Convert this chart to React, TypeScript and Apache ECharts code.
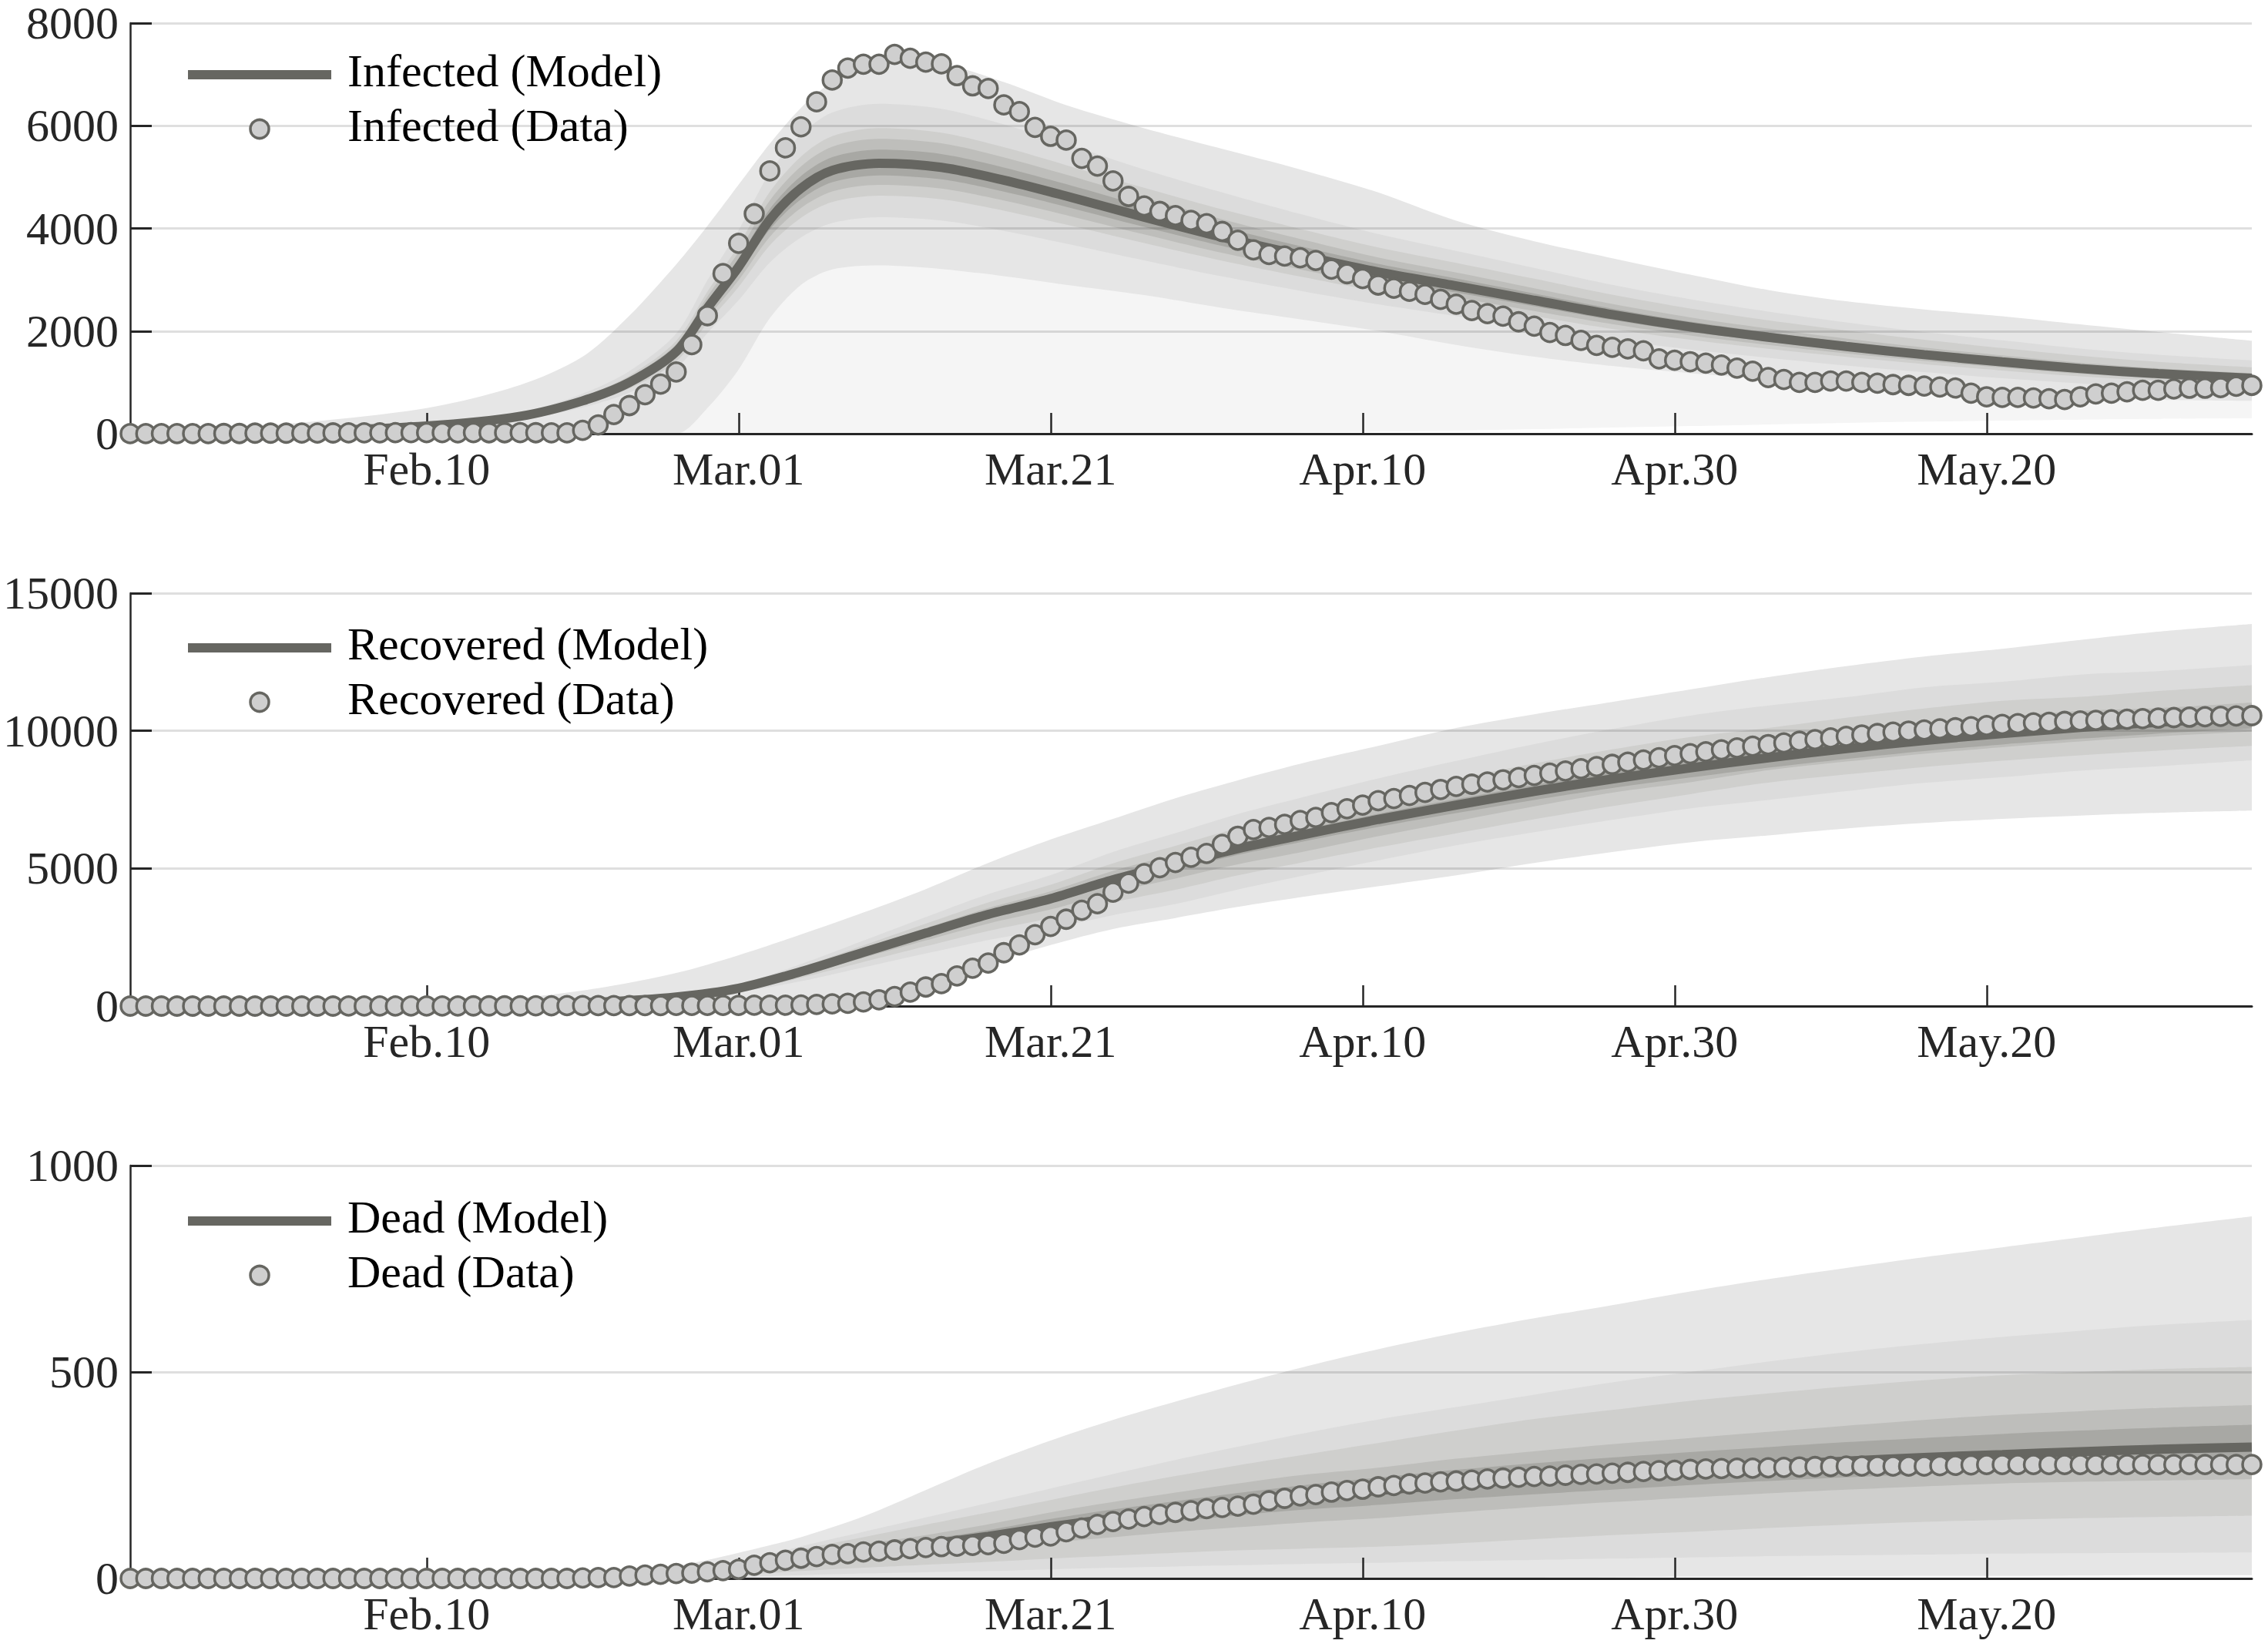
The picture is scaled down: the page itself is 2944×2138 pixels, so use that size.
import React, { useEffect, useRef } from "react";
import * as echarts from "echarts";

// ---------- axis ticks ----------
const TICK_DAYS = [19, 39, 59, 79, 99, 119];
const TICK_LABELS = ["Feb.10", "Mar.01", "Mar.21", "Apr.10", "Apr.30", "May.20"];
const LAST_DAY = 136;

// ---------- daily data (day 0 = Jan 22) ----------
const infectedData = [
  1, 1, 2, 2, 3, 3, 4, 4, 11, 11,
  11, 12, 12, 15, 16, 17, 18, 20, 20, 20,
  20, 17, 21, 19, 19, 20, 19, 17, 16, 65,
  172, 374, 548, 760, 966, 1204, 1735, 2300, 3120, 3710,
  4285, 5120, 5570, 5979, 6467, 6890, 7125, 7200, 7200, 7389,
  7315, 7240, 7205, 6976, 6777, 6727, 6407, 6277, 5969, 5794,
  5720, 5365, 5215, 4926, 4623, 4436, 4330, 4249, 4155, 4093,
  3940, 3770, 3581, 3491, 3461, 3427, 3376, 3207, 3118, 3022,
  2897, 2834, 2774, 2714, 2617, 2523, 2400, 2340, 2290, 2180,
  2096, 1971, 1914, 1817, 1722, 1682, 1654, 1614, 1459, 1431,
  1403, 1375, 1338, 1278, 1218, 1095, 1055, 999, 999, 1027,
  1027, 999, 986, 957, 942, 930, 910, 890, 790, 720,
  707, 707, 695, 680, 666, 720, 776, 789, 817, 845,
  845, 873, 886, 886, 898, 926, 942,
];

const recoveredData = [
  0, 0, 0, 0, 0, 0, 0, 0, 0, 0,
  0, 0, 0, 0, 1, 1, 1, 2, 2, 3,
  3, 4, 7, 7, 7, 7, 9, 10, 16, 16,
  16, 17, 18, 18, 18, 22, 22, 22, 24, 27,
  30, 30, 34, 41, 60, 80, 100, 150, 230, 346,
  506, 693, 815, 1096, 1376, 1564, 1938, 2219, 2594, 2893,
  3155, 3483, 3717, 4138, 4466, 4812, 5028, 5216, 5403, 5543,
  5871, 6170, 6410, 6490, 6600, 6740, 6850, 7030, 7170, 7300,
  7460, 7540, 7650, 7760, 7870, 7980, 8060, 8140, 8220, 8300,
  8380, 8460, 8540, 8620, 8700, 8780, 8860, 8940, 9020, 9100,
  9170, 9240, 9310, 9380, 9440, 9500, 9560, 9620, 9680, 9740,
  9800, 9850, 9900, 9950, 9990, 10030, 10070, 10110, 10150, 10190,
  10230, 10260, 10290, 10310, 10340, 10360, 10380, 10400, 10420, 10440,
  10460, 10480, 10495, 10510, 10525, 10540, 10550,
];

const deadData = [
  0, 0, 0, 0, 0, 0, 0, 0, 0, 0,
  0, 0, 0, 0, 0, 0, 0, 0, 0, 0,
  0, 0, 0, 0, 0, 0, 0, 0, 0, 1,
  2, 2, 6, 8, 10, 12, 13, 16, 19, 22,
  32, 38, 44, 49, 53, 58, 60, 64, 66, 69,
  72, 75, 77, 78, 80, 82, 85, 94, 100, 103,
  113, 122, 131, 138, 144, 150, 155, 160, 164, 169,
  172, 175, 180, 188, 194, 200, 203, 209, 213, 216,
  222, 225, 229, 231, 234, 236, 238, 241, 243, 245,
  247, 248, 250, 252, 253, 255, 257, 259, 261, 262,
  264, 265, 266, 267, 267, 268, 269, 270, 271, 271,
  272, 272, 272, 272, 272, 272, 273, 274, 275, 276,
  276, 276, 276, 276, 276, 276, 276, 276, 276, 276,
  276, 276, 276, 276, 276, 276, 276,
];

// ---------- model curves and uncertainty band edges (sampled days) ----------
const infectedDays = [0, 10, 19, 25, 29, 32, 35, 37, 39, 41, 43, 45, 48, 52, 56, 60, 65, 70, 75, 80, 85, 90, 95, 100, 105, 110, 115, 120, 125, 130, 136];
const infectedModel = [5, 40, 150, 340, 640, 1000, 1600, 2450, 3250, 4170, 4780, 5130, 5270, 5190, 4940, 4630, 4220, 3830, 3480, 3150, 2880, 2600, 2320, 2080, 1880, 1700, 1540, 1400, 1270, 1170, 1080];
const infectedOuterHi = [30, 190, 500, 950, 1500, 2300, 3300, 4050, 4850, 5650, 6350, 6850, 7250, 7200, 6850, 6400, 5950, 5550, 5150, 4700, 4150, 3750, 3420, 3100, 2800, 2580, 2420, 2290, 2130, 1980, 1810];
const infectedOuterLo = [0, 0, 0, 0, 0, 0, 0, 500, 1250, 2250, 2900, 3200, 3280, 3210, 3070, 2900, 2700, 2450, 2230, 2000, 1730, 1500, 1320, 1180, 1060, 950, 850, 770, 700, 660, 640];
const infectedLowest = [0, 0, 0, 0, 0, 0, 0, 0, 0, 0, 0, 0, 0, 0, 0, 0, 0, 0, 20, 40, 60, 90, 120, 150, 180, 210, 235, 255, 275, 290, 300];
const infectedB3Lo = [4, 32, 120, 272, 512, 800, 1280, 1960, 2600, 3336, 3824, 4104, 4216, 4152, 3952, 3704, 3376, 3064, 2784, 2520, 2290, 2060, 1830, 1640, 1480, 1330, 1200, 1080, 980, 900, 820];
const infectedB3Hi = [6, 49, 183, 415, 781, 1220, 1952, 2989, 3965, 5087, 5832, 6259, 6429, 6332, 6027, 5649, 5148, 4700, 4280, 3890, 3560, 3230, 2900, 2620, 2380, 2170, 1980, 1820, 1660, 1540, 1430];
const infectedB4Lo = [4, 35, 132, 299, 563, 880, 1408, 2156, 2860, 3670, 4206, 4514, 4638, 4567, 4347, 4074, 3714, 3370, 3062, 2772, 2534, 2288, 2042, 1830, 1654, 1496, 1355, 1232, 1118, 1030, 950];
const infectedB4Hi = [6, 45, 170, 384, 723, 1130, 1808, 2769, 3673, 4712, 5401, 5797, 5955, 5865, 5582, 5232, 4790, 4370, 3990, 3630, 3330, 3020, 2710, 2440, 2210, 2010, 1830, 1670, 1520, 1400, 1295];
const infectedB5Lo = [5, 37, 138, 313, 589, 920, 1472, 2254, 2990, 3836, 4398, 4720, 4848, 4775, 4545, 4260, 3882, 3524, 3202, 2898, 2650, 2392, 2134, 1914, 1730, 1564, 1417, 1288, 1168, 1076, 994];
const infectedB5Hi = [5, 44, 164, 371, 698, 1090, 1744, 2671, 3543, 4545, 5210, 5592, 5744, 5657, 5385, 5047, 4600, 4175, 3793, 3434, 3139, 2834, 2529, 2267, 2049, 1853, 1679, 1526, 1384, 1275, 1177];
const infectedB6Lo = [5, 38, 143, 325, 611, 955, 1528, 2340, 3104, 3982, 4565, 4899, 5033, 4956, 4718, 4422, 4030, 3658, 3323, 3008, 2750, 2483, 2216, 1986, 1795, 1624, 1471, 1337, 1213, 1117, 1031];
const infectedB6Hi = [5, 42, 158, 357, 672, 1050, 1680, 2573, 3413, 4379, 5019, 5387, 5534, 5450, 5187, 4862, 4431, 4022, 3654, 3308, 3024, 2730, 2436, 2184, 1974, 1785, 1617, 1470, 1334, 1229, 1134];

const cumDays = [0, 10, 20, 25, 30, 35, 39, 43, 47, 51, 55, 59, 63, 67, 71, 75, 80, 85, 90, 95, 100, 105, 110, 115, 120, 125, 130, 136];

const recoveredModel = [0, 3, 20, 55, 140, 330, 650, 1250, 1950, 2650, 3330, 3900, 4590, 5150, 5720, 6200, 6780, 7300, 7800, 8250, 8650, 9020, 9350, 9650, 9900, 10120, 10310, 10500];
const recoveredOuterHi = [0, 10, 120, 300, 650, 1200, 1850, 2600, 3400, 4250, 5200, 6050, 6800, 7550, 8200, 8800, 9450, 10100, 10600, 11050, 11500, 11950, 12350, 12700, 12980, 13300, 13600, 13880];
const recoveredOuterLo = [0, 0, 0, 0, 0, 10, 30, 80, 300, 950, 1550, 2220, 2800, 3200, 3600, 3950, 4350, 4750, 5200, 5600, 5950, 6200, 6450, 6650, 6800, 6920, 7020, 7100];
const recoveredB3Lo = [0, 2, 16, 44, 112, 264, 520, 900, 1404, 1908, 2398, 2808, 3305, 3708, 4233, 4712, 5288, 5840, 6318, 6765, 7180, 7487, 7807, 8106, 8316, 8551, 8712, 8925];
const recoveredB3Hi = [0, 4, 24, 67, 171, 403, 793, 1525, 2379, 3233, 4063, 4758, 5600, 6283, 6978, 7564, 8272, 8906, 9516, 10065, 10553, 10915, 11220, 11580, 11781, 12043, 12166, 12390];
const recoveredB4Lo = [0, 2, 16, 45, 115, 271, 533, 1025, 1599, 2173, 2731, 3198, 3764, 4223, 4748, 5208, 5763, 6278, 6786, 7260, 7699, 8118, 8415, 8685, 8910, 9108, 9279, 9450];
const recoveredB4Hi = [0, 3, 23, 62, 158, 373, 735, 1413, 2204, 2995, 3763, 4407, 5187, 5820, 6464, 7006, 7661, 8249, 8814, 9323, 9775, 10102, 10472, 10808, 11088, 11233, 11444, 11655];
const recoveredB5Lo = [0, 3, 18, 50, 126, 297, 585, 1125, 1755, 2385, 2997, 3510, 4131, 4635, 5148, 5580, 6170, 6716, 7254, 7755, 8131, 8569, 8883, 9168, 9405, 9614, 9795, 9975];
const recoveredB5Hi = [0, 3, 21, 59, 150, 353, 696, 1338, 2087, 2836, 3563, 4173, 4911, 5511, 6120, 6634, 7255, 7811, 8346, 8828, 9256, 9561, 9911, 10229, 10494, 10726, 10826, 11025];
const recoveredB6Lo = [0, 3, 19, 53, 134, 317, 624, 1200, 1872, 2544, 3197, 3744, 4406, 4944, 5491, 5952, 6509, 7008, 7488, 7920, 8304, 8659, 8976, 9264, 9504, 9715, 9898, 10080];
const recoveredB6Hi = [0, 3, 21, 57, 144, 340, 670, 1288, 2009, 2730, 3430, 4017, 4728, 5305, 5892, 6386, 6983, 7519, 8034, 8498, 8910, 9291, 9631, 9940, 10197, 10424, 10619, 10815];

const deadModel = [0, 0, 0, 1, 3, 9, 22, 45, 65, 82, 102, 125, 145, 163, 180, 196, 213, 228, 241, 253, 264, 275, 284, 293, 300, 307, 313, 318];
const deadOuterHi = [0, 0, 1, 3, 10, 30, 62, 100, 150, 214, 278, 334, 384, 428, 470, 510, 555, 595, 630, 662, 695, 725, 752, 778, 802, 826, 850, 877];
const deadOuterLo = [0, 0, 0, 0, 0, 0, 0, 0, 0, 0, 0, 0, 0, 0, 0, 0, 1, 2, 2, 3, 4, 4, 5, 6, 6, 7, 8, 8];
const deadB3Lo = [0, 0, 0, 0, 1, 2, 4, 8, 12, 15, 18, 22, 26, 29, 32, 35, 38, 42, 45, 48, 51, 54, 56, 58, 60, 61, 62, 63];
const deadB3Hi = [0, 0, 0, 2, 5, 16, 40, 78, 113, 148, 183, 218, 253, 287, 319, 350, 385, 415, 445, 475, 500, 525, 548, 568, 585, 600, 614, 626];
const deadB4Lo = [0, 0, 0, 0, 1, 4, 9, 18, 26, 33, 40, 48, 55, 62, 68, 72, 77, 85, 95, 105, 113, 122, 130, 137, 142, 146, 149, 152];
const deadB4Hi = [0, 0, 0, 2, 5, 14, 34, 70, 100, 130, 160, 190, 220, 248, 274, 298, 328, 358, 386, 408, 430, 448, 465, 480, 492, 500, 507, 512];
const deadB5Lo = [0, 0, 0, 1, 2, 6, 15, 31, 45, 57, 71, 87, 100, 113, 124, 135, 146, 160, 173, 185, 196, 206, 215, 223, 230, 234, 237, 240];
const deadB5Hi = [0, 0, 0, 1, 4, 12, 28, 57, 83, 105, 131, 160, 185, 208, 230, 250, 268, 290, 308, 325, 340, 355, 370, 384, 396, 405, 413, 420];
const deadB6Lo = [0, 0, 0, 1, 3, 8, 19, 38, 55, 70, 87, 106, 123, 138, 153, 166, 178, 192, 204, 215, 226, 236, 245, 253, 260, 266, 271, 275];
const deadB6Hi = [0, 0, 0, 1, 3, 10, 25, 52, 75, 94, 117, 144, 167, 187, 207, 225, 244, 263, 279, 293, 306, 318, 330, 340, 350, 358, 365, 372];

// ---------- styling ----------
const FONT = "'Liberation Serif', 'DejaVu Serif', serif";
const C = {
  white: "#ffffff",
  lowest: "#f5f5f5",
  outer: "#e6e6e6",
  b3: "#dcdcdc",
  b4: "#cfcfcd",
  b5: "#bebebb",
  b6: "#a8a8a4",
  line: "#666661",
  dotFill: "#cfcfcf",
  dotStroke: "#666661",
  axis: "#262626",
};

// Each band edge is filled down to zero, painted from the outside in, so that nested bands show.
const PANELS = [
  {
    name: "Infected",
    yMax: 8000,
    yInterval: 2000,
    days: infectedDays,
    model: infectedModel,
    data: infectedData,
    layers: [
      [infectedOuterHi, C.outer],
      [infectedB3Hi, C.b3],
      [infectedB4Hi, C.b4],
      [infectedB5Hi, C.b5],
      [infectedB6Hi, C.b6],
      [infectedB6Lo, C.b5],
      [infectedB5Lo, C.b4],
      [infectedB4Lo, C.b3],
      [infectedB3Lo, C.outer],
      [infectedOuterLo, C.lowest],
      [infectedLowest, C.white],
    ],
  },
  {
    name: "Recovered",
    yMax: 15000,
    yInterval: 5000,
    days: cumDays,
    model: recoveredModel,
    data: recoveredData,
    layers: [
      [recoveredOuterHi, C.outer],
      [recoveredB3Hi, C.b3],
      [recoveredB4Hi, C.b4],
      [recoveredB5Hi, C.b5],
      [recoveredB6Hi, C.b6],
      [recoveredB6Lo, C.b5],
      [recoveredB5Lo, C.b4],
      [recoveredB4Lo, C.b3],
      [recoveredB3Lo, C.outer],
      [recoveredOuterLo, C.white],
    ],
  },
  {
    name: "Dead",
    yMax: 1000,
    yInterval: 500,
    days: cumDays,
    model: deadModel,
    data: deadData,
    layers: [
      [deadOuterHi, C.outer],
      [deadB3Hi, C.b3],
      [deadB4Hi, C.b4],
      [deadB5Hi, C.b5],
      [deadB6Hi, C.b6],
      [deadB6Lo, C.b5],
      [deadB5Lo, C.b4],
      [deadB4Lo, C.b3],
      [deadB3Lo, C.outer],
      [deadOuterLo, C.white],
    ],
  },
];

const GRID_TOPS = [27, 770, 1513];
const GRID_HEIGHT = 536;
const GRID_LEFT = 169;
const GRID_RIGHT = 21;
const LEGEND_STEP = 744;
const SMOOTH = 0.3;

function buildOption() {
  const grid: any[] = [];
  const xAxis: any[] = [];
  const yAxis: any[] = [];
  const series: any[] = [];
  const graphic: any[] = [];

  PANELS.forEach((p, i) => {
    grid.push({ left: GRID_LEFT, right: GRID_RIGHT, top: GRID_TOPS[i], height: GRID_HEIGHT, containLabel: false });
    xAxis.push({
      type: "value",
      gridIndex: i,
      min: 0,
      max: LAST_DAY,
      z: 2.5,
      axisLine: { show: true, onZero: false, lineStyle: { color: C.axis, width: 3 } },
      axisTick: { show: true, inside: true, length: 27, customValues: TICK_DAYS, lineStyle: { color: C.axis, width: 2.5 } },
      axisLabel: {
        show: true,
        customValues: TICK_DAYS,
        margin: 16,
        fontSize: 60,
        fontFamily: FONT,
        color: C.axis,
        formatter: (v: number) => {
          const k = TICK_DAYS.indexOf(Math.round(v));
          return k >= 0 ? TICK_LABELS[k] : "";
        },
      },
      splitLine: { show: false },
    });
    yAxis.push({
      type: "value",
      gridIndex: i,
      min: 0,
      max: p.yMax,
      interval: p.yInterval,
      z: 2.5,
      axisLine: { show: true, lineStyle: { color: C.axis, width: 2.5 } },
      axisTick: { show: true, inside: true, length: 28, lineStyle: { color: C.axis, width: 3 } },
      axisLabel: {
        margin: 15,
        fontSize: 60,
        fontFamily: FONT,
        color: C.axis,
        formatter: (v: number) => String(v),
      },
      splitLine: { show: true, lineStyle: { color: "rgba(38,38,38,0.15)", width: 3 } },
    });

    p.layers.forEach(([edge, color]: any) => {
      series.push({
        type: "line",
        xAxisIndex: i,
        yAxisIndex: i,
        data: p.days.map((d: number, k: number) => [d, edge[k]]),
        symbol: "none",
        smooth: SMOOTH,
        silent: true,
        lineStyle: { width: 0, opacity: 0 },
        areaStyle: { color, opacity: 1, origin: "start" },
        z: 2,
      });
    });

    series.push({
      type: "line",
      name: `${p.name} (Model)`,
      xAxisIndex: i,
      yAxisIndex: i,
      data: p.days.map((d: number, k: number) => [d, p.model[k]]),
      symbol: "none",
      smooth: SMOOTH,
      lineStyle: { color: C.line, width: 12, cap: "butt" },
      z: 3,
    });
    series.push({
      type: "scatter",
      name: `${p.name} (Data)`,
      xAxisIndex: i,
      yAxisIndex: i,
      data: p.data.map((v: number, d: number) => [d, v]),
      symbol: "circle",
      symbolSize: 24,
      clip: false,
      itemStyle: { color: C.dotFill, borderColor: C.dotStroke, borderWidth: 3.5, opacity: 1 },
      z: 4,
    });

    const off = i * LEGEND_STEP;
    graphic.push(
      { type: "line", z: 10, shape: { x1: 244, y1: 97 + off, x2: 430, y2: 97 + off }, style: { stroke: C.line, lineWidth: 12 } },
      { type: "circle", z: 10, shape: { cx: 337, cy: 167.5 + off, r: 12 }, style: { fill: C.dotFill, stroke: C.dotStroke, lineWidth: 3.5 } },
      { type: "text", z: 10, x: 451, y: 92 + off, style: { text: `${p.name} (Model)`, fontSize: 60, fontFamily: FONT, fill: "#000", verticalAlign: "middle", align: "left" } },
      { type: "text", z: 10, x: 451, y: 163 + off, style: { text: `${p.name} (Data)`, fontSize: 60, fontFamily: FONT, fill: "#000", verticalAlign: "middle", align: "left" } }
    );
  });

  return { animation: false, backgroundColor: "#ffffff", grid, xAxis, yAxis, series, graphic };
}

export default function App() {
  const ref = useRef<HTMLDivElement>(null);
  useEffect(() => {
    if (!ref.current) return;
    const chart = echarts.init(ref.current, undefined, { renderer: "svg" });
    chart.setOption(buildOption());
    return () => chart.dispose();
  }, []);
  return (
    <div
      ref={ref}
      style={{ position: "absolute", left: 0, top: 0, width: 2944, height: 2138, background: "#fff" }}
    />
  );
}
